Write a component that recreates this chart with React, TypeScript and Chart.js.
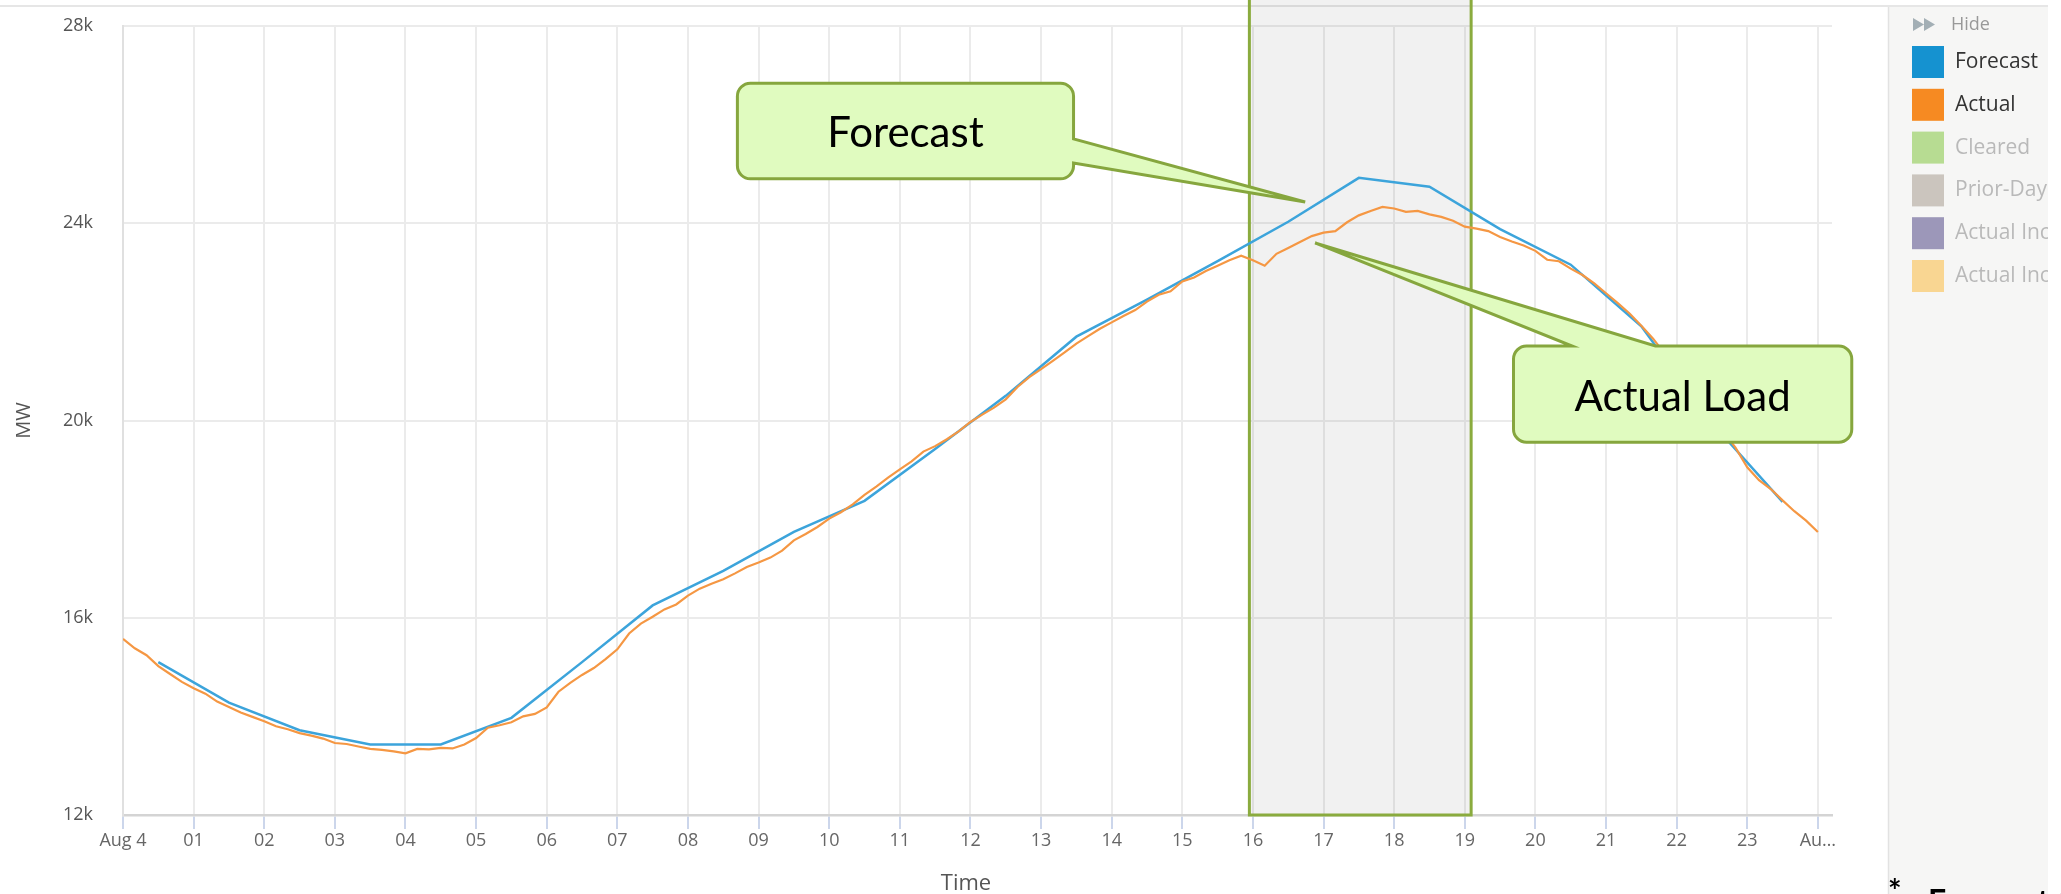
import React, { useEffect, useRef } from "react";
import { Chart, registerables } from "chart.js";

Chart.register(...registerables);

// ---------- data ----------
const xTickLabels = [
  "Aug 4", "01", "02", "03", "04", "05", "06", "07", "08", "09", "10", "11",
  "12", "13", "14", "15", "16", "17", "18", "19", "20", "21", "22", "23", "Au…",
];

const yTickStep = 4000;
const yMin = 12000;
const yMax = 28000;

// Forecast: hourly values plotted at the half hour
const forecastHours = [
  0.5, 1.5, 2.5, 3.5, 4.5, 5.5, 6.5, 7.5, 8.5, 9.5, 10.5, 11.5,
  12.5, 13.5, 14.5, 15.5, 16.5, 17.5, 18.5, 19.5, 20.5, 21.5, 22.5, 23.5,
];
const forecastMW = [
  15100, 14280, 13720, 13430, 13430, 13970, 15100, 16250, 16950, 17740, 18370, 19420,
  20500, 21700, 22450, 23230, 24030, 24920, 24740, 23880, 23160, 21910, 19950, 18350,
];

// Actual load: one value every 10 minutes from 00:00 to 24:00
const actualStepHours = 1 / 6;
const actualMW = [
  15570, 15380, 15240, 15020, 14860, 14700,
  14570, 14460, 14300, 14190, 14080, 13990,
  13900, 13800, 13740, 13660, 13610, 13550,
  13460, 13440, 13390, 13340, 13320, 13290,
  13250, 13340, 13330, 13360, 13350, 13430,
  13560, 13770, 13820, 13880, 14000, 14050,
  14180, 14500, 14680, 14840, 14980, 15160,
  15360, 15680, 15880, 16020, 16170, 16270,
  16450, 16590, 16690, 16780, 16900, 17030,
  17120, 17220, 17360, 17570, 17700, 17840,
  18010, 18140, 18300, 18490, 18660, 18840,
  19010, 19170, 19370, 19480, 19620, 19780,
  19970, 20120, 20260, 20430, 20680, 20880,
  21040, 21210, 21380, 21560, 21710, 21860,
  21990, 22120, 22240, 22410, 22550, 22620,
  22820, 22900, 23030, 23140, 23250, 23340,
  23250, 23140, 23380, 23500, 23620, 23740,
  23810, 23840, 24020, 24160, 24250, 24330,
  24300, 24230, 24250, 24180, 24130, 24050,
  23930, 23890, 23840, 23720, 23630, 23550,
  23440, 23260, 23230, 23080, 22950, 22780,
  22580, 22380, 22170, 21920, 21660, 21350,
  21050, 20720, 20400, 20080, 19760, 19450,
  19050, 18790, 18610, 18380, 18160, 17970,
  17740,
];

// Legend
const legendLabels = ["Forecast", "Actual", "Cleared", "Prior-Day", "Actual Inc", "Actual Inc"];
const legendColors = ["#1592d0", "#f68a22", "#b7dc92", "#cbc5be", "#9c97b9", "#f9d692"];
const legendActive = [true, true, false, false, false, false];

// Annotations (data units: hours / MW)
const shadeHours = [15.95, 19.09];
const forecastBox = { x0: 8.7, x1: 13.46, yTop: 26840, yBot: 24900, tailA: 25710, tailB: 25220, tipX: 16.74, tipY: 24430, text: "Forecast" };
const actualBox = { x0: 19.69, x1: 24.48, yTop: 21510, yBot: 19560, tailA: 20.52, tailB: 21.7, tipX: 16.88, tipY: 23600, text: "Actual Load" };

const FONT = "'Open Sans', 'DejaVu Sans', sans-serif";
const CALLOUT_FONT = "Lato, 'Open Sans', sans-serif";

function roundRectPath(ctx: CanvasRenderingContext2D, pts: any[], r: number) {
  ctx.beginPath();
  const n = pts.length;
  ctx.moveTo((pts[0][0] + pts[1][0]) / 2, (pts[0][1] + pts[1][1]) / 2);
  for (let i = 1; i <= n; i++) {
    const p = pts[i % n];
    const q = pts[(i + 1) % n];
    ctx.arcTo(p[0], p[1], q[0], q[1], p[2] === 0 ? 0 : r);
  }
  ctx.closePath();
}

const overlayPlugin = {
  id: "overlay",
  beforeDraw(chart: any) {
    const ctx = chart.ctx as CanvasRenderingContext2D;
    ctx.save();
    ctx.fillStyle = "#ffffff";
    ctx.fillRect(0, 0, chart.width, chart.height);
    // legend panel
    ctx.fillStyle = "#f6f6f5";
    ctx.fillRect(1888, 6, 160, chart.height);
    ctx.strokeStyle = "#e2e2e2";
    ctx.lineWidth = 1.5;
    ctx.beginPath();
    ctx.moveTo(1888.5, 6);
    ctx.lineTo(1888.5, chart.height);
    ctx.stroke();
    // top rule
    ctx.strokeStyle = "#e6e6e6";
    ctx.lineWidth = 2;
    ctx.beginPath();
    ctx.moveTo(0, 6);
    ctx.lineTo(2048, 6);
    ctx.stroke();
    ctx.restore();
  },
  beforeDatasetsDraw(chart: any) {
    const ctx = chart.ctx as CanvasRenderingContext2D;
    const xs = chart.scales.x;
    const ys = chart.scales.y;
    const l = xs.getPixelForValue(shadeHours[0]);
    const r = xs.getPixelForValue(shadeHours[1]);
    const b = ys.getPixelForValue(yMin);
    ctx.save();
    ctx.fillStyle = "rgba(0,0,0,0.055)";
    ctx.fillRect(l, -4, r - l, b + 4);
    ctx.strokeStyle = "#8aab3e";
    ctx.lineWidth = 3;
    ctx.strokeRect(l, -4, r - l, b + 4);
    ctx.restore();
  },
  afterDraw(chart: any) {
    const ctx = chart.ctx as CanvasRenderingContext2D;
    const xs = chart.scales.x;
    const ys = chart.scales.y;
    ctx.save();

    // --- callouts ---
    const drawBubble = (pts: any[], text: string, cx: number, cy: number) => {
      roundRectPath(ctx, pts, 13);
      ctx.fillStyle = "#e0fbbf";
      ctx.fill();
      ctx.strokeStyle = "#86a63e";
      ctx.lineWidth = 3;
      ctx.lineJoin = "miter";
      ctx.stroke();
      ctx.fillStyle = "#000";
      ctx.font = `42px ${CALLOUT_FONT}`;
      ctx.textAlign = "center";
      ctx.textBaseline = "middle";
      ctx.fillText(text, cx, cy);
    };

    {
      const L = xs.getPixelForValue(forecastBox.x0);
      const R = xs.getPixelForValue(forecastBox.x1);
      const T = ys.getPixelForValue(forecastBox.yTop);
      const B = ys.getPixelForValue(forecastBox.yBot);
      const a = ys.getPixelForValue(forecastBox.tailA);
      const bb = ys.getPixelForValue(forecastBox.tailB);
      const tx = xs.getPixelForValue(forecastBox.tipX);
      const ty = ys.getPixelForValue(forecastBox.tipY);
      const pts = [[L, T], [R, T], [R, a, 0], [tx, ty, 0], [R, bb, 0], [R, B], [L, B]];
      drawBubble(pts, forecastBox.text, (L + R) / 2, (T + B) / 2 + 2);
    }
    {
      const L = xs.getPixelForValue(actualBox.x0);
      const R = xs.getPixelForValue(actualBox.x1);
      const T = ys.getPixelForValue(actualBox.yTop);
      const B = ys.getPixelForValue(actualBox.yBot);
      const a = xs.getPixelForValue(actualBox.tailA);
      const bb = xs.getPixelForValue(actualBox.tailB);
      const tx = xs.getPixelForValue(actualBox.tipX);
      const ty = ys.getPixelForValue(actualBox.tipY);
      const pts = [[L, T], [a, T, 0], [tx, ty, 0], [bb, T, 0], [R, T], [R, B], [L, B]];
      drawBubble(pts, actualBox.text, (L + R) / 2, (T + B) / 2 + 3);
    }

    // --- axis titles ---
    ctx.fillStyle = "#555";
    ctx.font = `20px ${FONT}`;
    ctx.textAlign = "center";
    ctx.textBaseline = "middle";
    ctx.save();
    ctx.translate(24, (chart.chartArea.top + chart.chartArea.bottom) / 2);
    ctx.rotate(-Math.PI / 2);
    ctx.fillText("MW", 0, 0);
    ctx.restore();
    ctx.font = `22px ${FONT}`;
    ctx.fillText("Time", 966, 884);

    // --- legend panel ---
    ctx.save();
    ctx.beginPath();
    ctx.rect(1889, 6, 159, chart.height);
    ctx.clip();
    ctx.fillStyle = "#a3afb5";
    ctx.beginPath();
    ctx.moveTo(1913, 18); ctx.lineTo(1924, 24.5); ctx.lineTo(1913, 31); ctx.closePath();
    ctx.moveTo(1924, 18); ctx.lineTo(1935, 24.5); ctx.lineTo(1924, 31); ctx.closePath();
    ctx.fill();
    ctx.fillStyle = "#999";
    ctx.font = `18px ${FONT}`;
    ctx.textAlign = "left";
    ctx.fillText("Hide", 1951, 25);
    legendLabels.forEach((lab, i) => {
      const top = 46 + i * 42.8;
      ctx.fillStyle = legendColors[i];
      ctx.fillRect(1912, top, 32, 32);
      ctx.fillStyle = legendActive[i] ? "#333" : "#b9b9b9";
      ctx.font = `21px ${FONT}`;
      ctx.fillText(lab, 1955, top + 16);
    });
    ctx.restore();

    // --- footnote cut at bottom edge ---
    ctx.fillStyle = "#000";
    ctx.textAlign = "left";
    ctx.textBaseline = "alphabetic";
    ctx.font = `bold 32px ${CALLOUT_FONT}`;
    ctx.fillText("*", 1888, 903);
    ctx.fillText("Forecast 12", 1928, 913);

    ctx.restore();
  },
};

export default function App() {
  const ref = useRef<HTMLCanvasElement | null>(null);

  useEffect(() => {
    if (!ref.current) return;
    const forecastData = forecastHours.map((h, i) => ({ x: h, y: forecastMW[i] }));
    const actualData = actualMW.map((v, i) => ({ x: i * actualStepHours, y: v }));

    const chart = new Chart(ref.current, {
      type: "line",
      data: {
        datasets: [
          {
            label: "Forecast",
            data: forecastData,
            borderColor: "#3ca4db",
            borderWidth: 2.5,
            pointRadius: 0,
            tension: 0,
            order: 1,
          },
          {
            label: "Actual",
            data: actualData,
            borderColor: "#f59743",
            borderWidth: 2.2,
            pointRadius: 0,
            tension: 0,
            order: 0,
          },
        ],
      },
      plugins: [overlayPlugin],
      options: {
        responsive: false,
        animation: false,
        devicePixelRatio: 1,
        layout: { autoPadding: false, padding: { left: 0, right: 229, top: 26, bottom: 0 } },
        plugins: {
          legend: { display: false },
          tooltip: { enabled: false },
          title: { display: false },
        },
        scales: {
          x: {
            type: "linear",
            min: 0,
            max: 24.2,
            afterBuildTicks: (scale: any) => {
              scale.ticks = xTickLabels.map((_, i) => ({ value: i }));
            },
            afterFit: (scale: any) => {
              scale.height = 79;
            },
            ticks: {
              autoSkip: false,
              maxRotation: 0,
              minRotation: 0,
              padding: 1,
              color: "#666",
              font: { family: FONT, size: 18 },
              callback: (_v: any, i: number) => xTickLabels[i],
            },
            grid: {
              color: "#ebebeb",
              lineWidth: 2,
              drawTicks: true,
              tickLength: 14,
              tickColor: "#ccd6eb",
              tickWidth: 2,
            },
            border: { display: true, color: "#d4d4d4", width: 2.5 },
          },
          y: {
            type: "linear",
            min: yMin,
            max: yMax,
            afterFit: (scale: any) => {
              scale.width = 123;
              scale.paddingTop = 0;
              scale.paddingBottom = 0;
            },
            ticks: {
              stepSize: yTickStep,
              padding: 30,
              color: "#555",
              font: { family: FONT, size: 18 },
              callback: (v: any) => `${Number(v) / 1000}k`,
            },
            grid: { color: "#ebebeb", lineWidth: 2, drawTicks: false },
            border: { display: true, color: "#e0e0e0", width: 2 },
          },
        },
      },
    });
    return () => chart.destroy();
  }, []);

  return (
    <div style={{ position: "fixed", left: 0, top: 0, width: 2061, height: 894, background: "#fff" }}>
      <canvas ref={ref} width={2061} height={894} style={{ display: "block" }} />
    </div>
  );
}
